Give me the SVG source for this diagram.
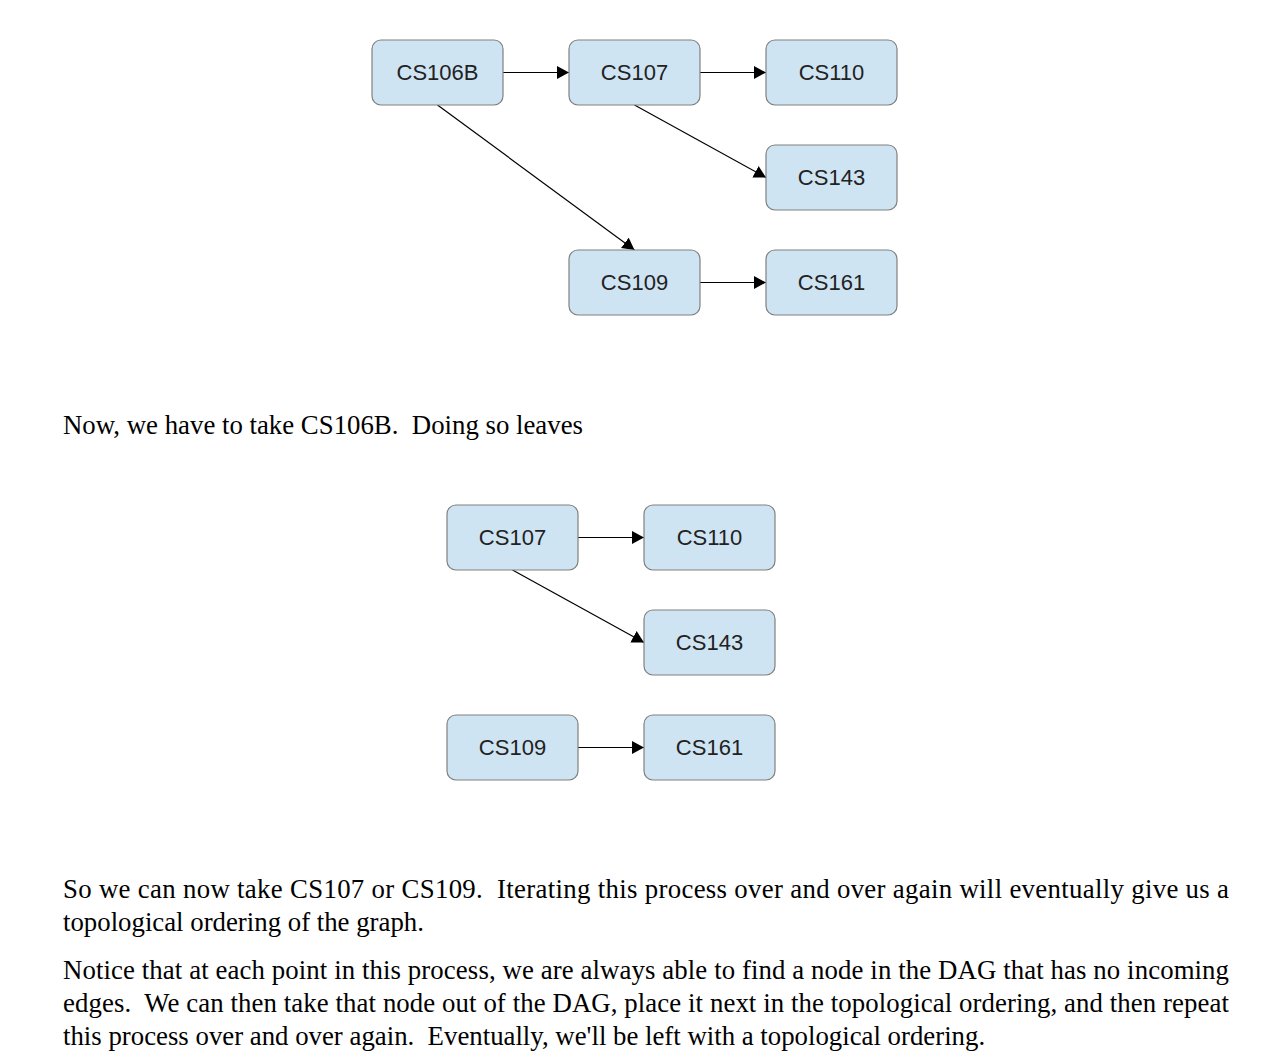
<svg xmlns="http://www.w3.org/2000/svg" width="1276" height="1064" viewBox="0 0 1276 1064">
<defs>
<style>
.node rect{fill:#cfe4f2;stroke:#808080;stroke-width:1.2}
.node text{font-family:"Liberation Sans",Arial,sans-serif;font-size:22px;fill:#222;text-anchor:middle}
.edge{stroke:#000;stroke-width:1.2;fill:none;marker-end:url(#arr)}
.body{font-family:"Liberation Serif","Times New Roman",serif;font-size:26.8px;fill:#000}
</style>
<marker id="arr" markerUnits="userSpaceOnUse" markerWidth="13" markerHeight="14" refX="12" refY="6.5" orient="auto">
<path d="M0,0 L12,6.5 L0,13 z" fill="#000"/>
</marker>
</defs>
<rect width="1276" height="1064" fill="#fff"/>

<g id="connectors">
<line class="edge" x1="503" y1="72.5" x2="569" y2="72.5"/>
<line class="edge" x1="700" y1="72.5" x2="766" y2="72.5"/>
<line class="edge" x1="634.5" y1="105" x2="766" y2="177.5"/>
<line class="edge" x1="437.5" y1="105" x2="634.5" y2="250"/>
<line class="edge" x1="700" y1="282.5" x2="766" y2="282.5"/>
<line class="edge" x1="578" y1="537.5" x2="644" y2="537.5"/>
<line class="edge" x1="512.5" y1="570" x2="644" y2="642.5"/>
<line class="edge" x1="578" y1="747.5" x2="644" y2="747.5"/>
</g>

<g id="n1-cs106b" class="node"><rect x="372" y="40" width="131" height="65" rx="9"/><text x="437.5" y="80">CS106B</text></g>
<g id="n1-cs107" class="node"><rect x="569" y="40" width="131" height="65" rx="9"/><text x="634.5" y="80">CS107</text></g>
<g id="n1-cs110" class="node"><rect x="766" y="40" width="131" height="65" rx="9"/><text x="831.5" y="80">CS110</text></g>
<g id="n1-cs143" class="node"><rect x="766" y="145" width="131" height="65" rx="9"/><text x="831.5" y="185">CS143</text></g>
<g id="n1-cs109" class="node"><rect x="569" y="250" width="131" height="65" rx="9"/><text x="634.5" y="290">CS109</text></g>
<g id="n1-cs161" class="node"><rect x="766" y="250" width="131" height="65" rx="9"/><text x="831.5" y="290">CS161</text></g>

<g id="n2-cs107" class="node"><rect x="447" y="505" width="131" height="65" rx="9"/><text x="512.5" y="545">CS107</text></g>
<g id="n2-cs110" class="node"><rect x="644" y="505" width="131" height="65" rx="9"/><text x="709.5" y="545">CS110</text></g>
<g id="n2-cs143" class="node"><rect x="644" y="610" width="131" height="65" rx="9"/><text x="709.5" y="650">CS143</text></g>
<g id="n2-cs109" class="node"><rect x="447" y="715" width="131" height="65" rx="9"/><text x="512.5" y="755">CS109</text></g>
<g id="n2-cs161" class="node"><rect x="644" y="715" width="131" height="65" rx="9"/><text x="709.5" y="755">CS161</text></g>

<g id="text">
<text class="body" x="63" y="433.5" xml:space="preserve">Now, we have to take CS106B.  Doing so leaves</text>
<text class="body" x="63" y="898" xml:space="preserve" textLength="1166" lengthAdjust="spacing">So we can now take CS107 or CS109.  Iterating this process over and over again will eventually give us a</text>
<text class="body" x="63" y="931" xml:space="preserve">topological ordering of the graph.</text>
<text class="body" x="63" y="979" xml:space="preserve" textLength="1166" lengthAdjust="spacing">Notice that at each point in this process, we are always able to find a node in the DAG that has no incoming</text>
<text class="body" x="63" y="1012" xml:space="preserve" textLength="1166" lengthAdjust="spacing">edges.  We can then take that node out of the DAG, place it next in the topological ordering, and then repeat</text>
<text class="body" x="63" y="1045" xml:space="preserve">this process over and over again.  Eventually, we'll be left with a topological ordering.</text>
</g>
</svg>
